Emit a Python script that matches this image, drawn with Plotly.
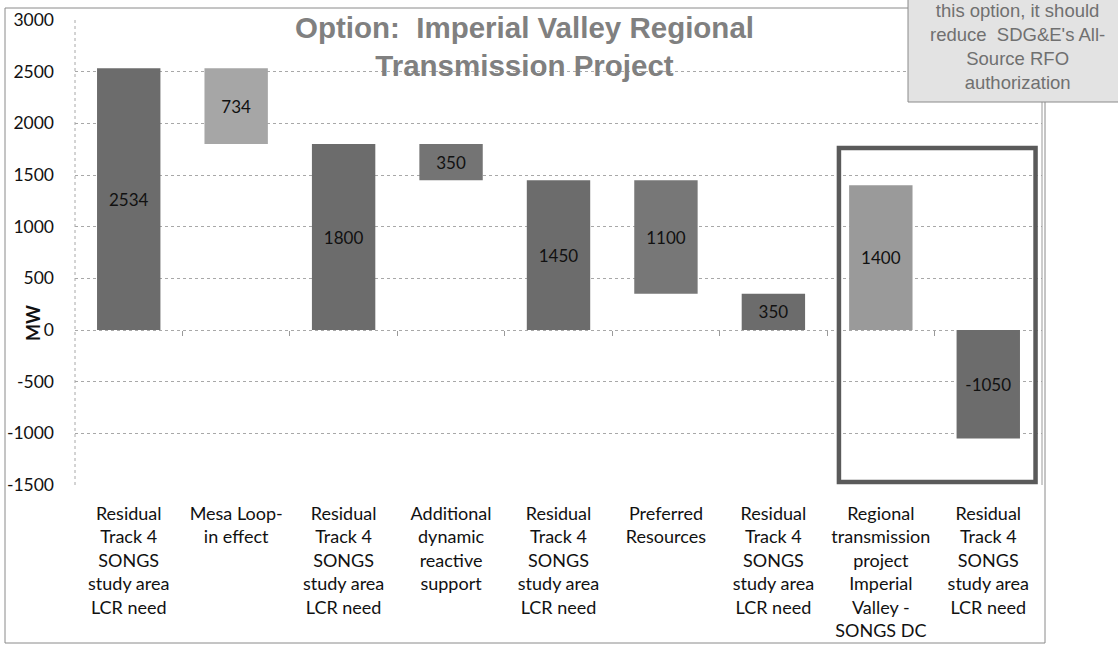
import plotly.graph_objects as go

categories = [
    "Residual<br>Track 4<br>SONGS<br>study area<br>LCR need",
    "Mesa Loop-<br>in effect",
    "Residual<br>Track 4<br>SONGS<br>study area<br>LCR need",
    "Additional<br>dynamic<br>reactive<br>support",
    "Residual<br>Track 4<br>SONGS<br>study area<br>LCR need",
    "Preferred<br>Resources",
    "Residual<br>Track 4<br>SONGS<br>study area<br>LCR need",
    "Regional<br>transmission<br>project<br>Imperial<br>Valley -<br>SONGS DC",
    "Residual<br>Track 4<br>SONGS<br>study area<br>LCR need",
]
values = [2534, 734, 1800, 350, 1450, 1100, 350, 1400, -1050]
bases = [0, 1800, 0, 1450, 0, 350, 0, 0, 0]
y_ticks = [3000, 2500, 2000, 1500, 1000, 500, 0, -500, -1000, -1500]
y_tick_labels = ["3000", "2500", "2000", "1500", "1000", "500", "0", "-500", "-1000", "-1500"]

bar_colors = ["#6c6c6c", "#a6a6a6", "#6c6c6c", "#747474", "#6c6c6c",
              "#777777", "#6c6c6c", "#9a9a9a", "#6c6c6c"]

xs = list(range(len(categories)))

fig = go.Figure()
fig.add_trace(go.Bar(
    x=xs, y=values, base=bases,
    marker=dict(color=bar_colors, line=dict(width=0)),
    width=0.59,
    text=[str(v) for v in values],
    textposition="inside", insidetextanchor="middle",
    textangle=0, constraintext="none",
    textfont=dict(family="Lato", size=17, color="#111111"),
    showlegend=False, hoverinfo="skip",
))
# invisible trace for the zero-line tick axis
fig.add_trace(go.Scatter(x=[-0.5, 8.5], y=[0, 0], mode="lines",
                         line=dict(width=0), xaxis="x2", yaxis="y",
                         showlegend=False, hoverinfo="skip"))

L, R, T, B = 75, 76, 20, 160
W, H = 1118, 645
pw = W - L - R
ph = H - T - B

def px(x):
    return (x - L) / pw

def py(y):
    return (H - B - y) / ph

fig.update_layout(
    width=W, height=H,
    margin=dict(l=L, r=R, t=T, b=B, pad=0, autoexpand=False),
    paper_bgcolor="white", plot_bgcolor="white",
    bargap=0.41,
    xaxis=dict(
        range=[-0.5, 8.5], tickmode="array", tickvals=xs, ticktext=categories,
        showgrid=False, zeroline=False, showline=False, ticks="",
        tickfont=dict(family="Lato", size=18, color="#111111"),
        ticklabelstandoff=16, fixedrange=True, automargin=False,
    ),
    xaxis2=dict(
        range=[-0.5, 8.5], overlaying="x", anchor="free",
        position=(0 - y_ticks[-1]) / (y_ticks[0] - y_ticks[-1]),
        tickmode="array", tickvals=[i + 0.5 for i in xs[:-1]],
        ticks="outside", ticklen=5, tickcolor="#9a9a9a", tickwidth=1,
        showticklabels=False, showgrid=False, zeroline=False, showline=False,
        automargin=False, fixedrange=True,
    ),
    yaxis=dict(
        range=[y_ticks[-1], y_ticks[0]], tickmode="array", tickvals=y_ticks,
        ticktext=y_tick_labels,
        showgrid=True, gridcolor="#a8a8a8", griddash="dot", gridwidth=1,
        zeroline=False, showline=False, ticks="",
        tickfont=dict(family="Lato", size=17.5, color="#111111"),
        ticklabelstandoff=20, fixedrange=True, automargin=False,
    ),
    shapes=[
        # outer chart border
        dict(type="rect", xref="paper", yref="paper",
             x0=px(5), x1=px(1045), y0=py(643), y1=py(8),
             line=dict(color="#8a8a8a", width=1), layer="below"),
        # plot area left border (dotted)
        dict(type="line", xref="paper", yref="paper",
             x0=0, x1=0, y0=0, y1=1,
             line=dict(color="#a8a8a8", width=1, dash="dot")),
        # plot area right border
        dict(type="line", xref="paper", yref="paper",
             x0=1, x1=1, y0=0, y1=1,
             line=dict(color="#9a9a9a", width=1)),
        # highlight rectangle
        dict(type="rect", xref="x", yref="y",
             x0=6.61, x1=8.44, y0=-1470, y1=1762,
             line=dict(color="#5a5a5a", width=4.5)),
        # top-right note box
        dict(type="rect", xref="paper", yref="paper",
             x0=px(908), x1=px(1130), y0=py(102), y1=py(-10),
             fillcolor="#e3e3e3", line=dict(color="#8a8a8a", width=1)),
    ],
    annotations=[
        dict(text="<b>Option:  Imperial Valley Regional<br>Transmission Project</b>",
             xref="paper", yref="paper", x=px(524), y=py(46),
             xanchor="center", yanchor="middle", showarrow=False,
             font=dict(family="Liberation Sans, Arial", size=29.5, color="#808080")),
        dict(text="<b>MW</b>", xref="paper", yref="paper",
             x=px(33), y=py(323), textangle=-90,
             xanchor="center", yanchor="middle", showarrow=False,
             font=dict(family="Lato", size=18, color="#111111")),
        dict(text="this option, it should<br>reduce  SDG&amp;E's All-<br>Source RFO<br>authorization",
             xref="paper", yref="paper", x=px(1017), y=py(46),
             xanchor="center", yanchor="middle", showarrow=False,
             font=dict(family="Liberation Sans, Arial", size=18.5, color="#707070")),
    ],
)

fig.write_html("out.html", config={"displayModeBar": False},
               post_script="document.body.style.margin='0';")
